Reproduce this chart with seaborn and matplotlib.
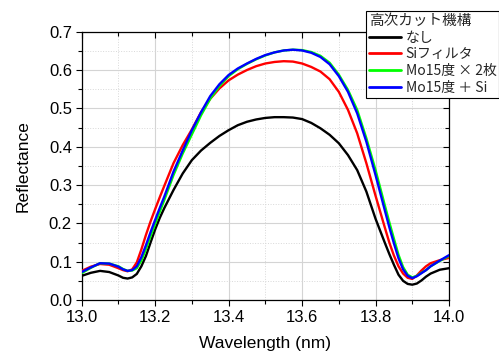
import numpy as np
import pandas as pd
import matplotlib
matplotlib.use("Agg")
import matplotlib.pyplot as plt
from matplotlib.ticker import MultipleLocator
import seaborn as sns

wavelength = [13.000, 13.025, 13.050, 13.075, 13.100, 13.1125, 13.125, 13.1375, 13.150, 13.1625,
              13.175, 13.1875, 13.200, 13.2125, 13.225, 13.250, 13.275, 13.300, 13.325, 13.350,
              13.375, 13.400, 13.425, 13.450, 13.475, 13.500, 13.525, 13.550, 13.575, 13.600,
              13.625, 13.650, 13.675, 13.700, 13.725, 13.750, 13.775, 13.800, 13.825, 13.8375,
              13.850, 13.8625, 13.875, 13.8875, 13.900, 13.9125, 13.925, 13.9375, 13.950, 13.975,
              14.000]

nashi = [0.063, 0.071, 0.076, 0.073, 0.064, 0.058, 0.056, 0.059, 0.068, 0.088,
         0.115, 0.150, 0.184, 0.214, 0.240, 0.287, 0.330, 0.365, 0.390, 0.410,
         0.428, 0.443, 0.456, 0.465, 0.471, 0.475, 0.477, 0.477, 0.476, 0.472,
         0.462, 0.448, 0.431, 0.409, 0.378, 0.339, 0.283, 0.212, 0.150, 0.120,
         0.092, 0.066, 0.050, 0.042, 0.040, 0.043, 0.051, 0.061, 0.069, 0.079,
         0.083]

si_filter = [0.076, 0.087, 0.094, 0.092, 0.083, 0.078, 0.075, 0.080, 0.098, 0.132,
             0.170, 0.205, 0.237, 0.268, 0.298, 0.357, 0.404, 0.445, 0.490, 0.525,
             0.552, 0.573, 0.588, 0.600, 0.610, 0.617, 0.621, 0.623, 0.622, 0.617,
             0.608, 0.596, 0.576, 0.543, 0.496, 0.435, 0.357, 0.272, 0.190, 0.150,
             0.116, 0.088, 0.069, 0.058, 0.055, 0.064, 0.077, 0.088, 0.096, 0.104,
             0.110]

mo15_x2 = [0.070, 0.084, 0.096, 0.095, 0.088, 0.081, 0.076, 0.077, 0.083, 0.103,
           0.133, 0.167, 0.199, 0.230, 0.261, 0.326, 0.382, 0.432, 0.482, 0.525,
           0.558, 0.584, 0.602, 0.616, 0.628, 0.638, 0.646, 0.651, 0.653, 0.652,
           0.647, 0.637, 0.619, 0.588, 0.548, 0.496, 0.422, 0.339, 0.248, 0.203,
           0.160, 0.118, 0.086, 0.066, 0.059, 0.063, 0.071, 0.078, 0.088, 0.102,
           0.115]

mo15_si = [0.073, 0.085, 0.096, 0.095, 0.087, 0.080, 0.076, 0.078, 0.088, 0.112,
           0.143, 0.177, 0.209, 0.240, 0.270, 0.335, 0.390, 0.443, 0.490, 0.532,
           0.563, 0.587, 0.604, 0.617, 0.629, 0.639, 0.646, 0.651, 0.653, 0.651,
           0.645, 0.634, 0.615, 0.584, 0.543, 0.487, 0.413, 0.326, 0.235, 0.190,
           0.148, 0.109, 0.080, 0.063, 0.057, 0.062, 0.070, 0.078, 0.088, 0.103,
           0.117]

labels = ["なし", "Siフィルタ", "Mo15度 × 2枚", "Mo15度 ＋ Si"]
colors = ["#000000", "#ff0000", "#00ff00", "#0000ff"]
legend_title = "高次カット機構"
x_ticks = [13.0, 13.2, 13.4, 13.6, 13.8, 14.0]
y_ticks = [0.0, 0.1, 0.2, 0.3, 0.4, 0.5, 0.6, 0.7]

series = [nashi, si_filter, mo15_x2, mo15_si]
df = pd.concat([pd.DataFrame({"Wavelength": wavelength, "Reflectance": s, "label": lab})
                for s, lab in zip(series, labels)], ignore_index=True)

sns.set_theme(style="ticks")
plt.rcParams["font.family"] = ["Liberation Sans", "Noto Sans CJK JP", "DejaVu Sans"]

fig = plt.figure(figsize=(4.99, 3.54), dpi=100)
ax = fig.add_axes([0.1637, 0.1525, 0.7361, 0.758])

sns.lineplot(data=df, x="Wavelength", y="Reflectance", hue="label", hue_order=labels,
             palette=colors, sort=False, linewidth=1.7, ax=ax, legend=False, zorder=3)

ax.set_xlim(13.0, 14.0)
ax.set_ylim(0.0, 0.7)
ax.set_xticks(x_ticks)
ax.set_yticks(y_ticks)
ax.set_xticklabels([f"{v:.1f}" for v in x_ticks])
ax.set_yticklabels([f"{v:.1f}" for v in y_ticks])
ax.xaxis.set_minor_locator(MultipleLocator(0.1))
ax.yaxis.set_minor_locator(MultipleLocator(0.05))

ax.grid(which="major", color="#d4d4d4", linestyle="-", linewidth=0.8, zorder=0)
ax.grid(which="minor", color="#d8d8d8", linestyle=":", linewidth=0.7, zorder=0)

for sp in ax.spines.values():
    sp.set_visible(True)
    sp.set_color("black")
    sp.set_linewidth(0.9)

ax.tick_params(axis="both", which="both", direction="out", color="black", width=0.8,
               labelsize=12, labelcolor="black", pad=3)
ax.tick_params(which="major", length=4)
ax.tick_params(which="minor", length=3)
ax.tick_params(top=True, right=True, which="both")
# inward ticks on the top and right spines
for tick in ax.xaxis.get_major_ticks() + ax.xaxis.get_minor_ticks():
    tick.tick2line.set_marker(3)  # TICKDOWN
for tick in ax.yaxis.get_major_ticks() + ax.yaxis.get_minor_ticks():
    tick.tick2line.set_marker(0)  # TICKLEFT

ax.set_xlabel("Wavelength (nm)", fontsize=12.5, color="black", labelpad=8)
ax.set_ylabel("Reflectance", fontsize=12.5, color="black", labelpad=13)

handles = [plt.Line2D([], [], color=c, linewidth=2.0) for c in colors]
leg = fig.legend(handles, labels, title=legend_title, loc="upper left",
                 bbox_to_anchor=(366 / 499, 1 - 11 / 354), frameon=True, fancybox=False,
                 edgecolor="black", framealpha=1.0, title_fontsize=10.5,
                 handlelength=2.35, handletextpad=0.3, labelspacing=0.2,
                 borderpad=0.2, borderaxespad=0.0,
                 prop={"family": ["Noto Sans CJK JP", "DejaVu Sans"], "size": 10})
leg.get_title().set_family(["Noto Sans CJK JP", "DejaVu Sans"])
leg._legend_box.align = "left"
leg.get_frame().set_linewidth(0.8)

fig.savefig("out.png", dpi=100)
